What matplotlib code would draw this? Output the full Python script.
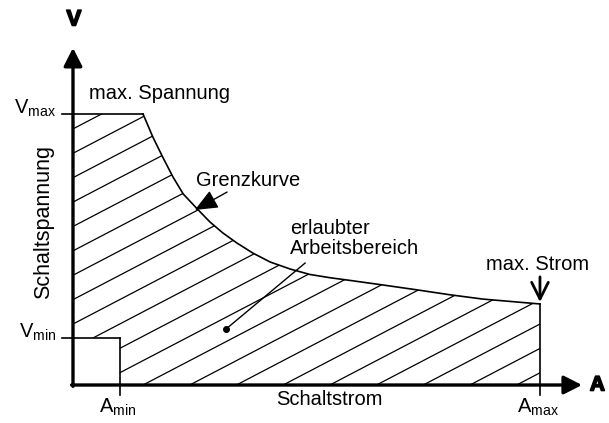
import numpy as np
import matplotlib
matplotlib.use("Agg")
import matplotlib.pyplot as plt
import matplotlib.patheffects as pe
from matplotlib.patches import Polygon
from matplotlib.collections import LineCollection

plt.rcParams['font.family'] = ['Liberation Sans', 'DejaVu Sans']
plt.rcParams['mathtext.fontset'] = 'custom'
plt.rcParams['mathtext.rm'] = 'Liberation Sans'

# Grenzkurve (Schaltstrom, Schaltspannung), arbitrary units
strom = [1.50, 1.71, 1.93, 2.14, 2.36, 2.66, 2.93, 3.21, 3.51, 3.85,
         4.22, 4.65, 5.07, 5.50, 5.93, 6.64, 7.37, 8.07, 8.78, 10.0]
spannung = [10.0, 9.15, 8.38, 7.68, 7.05, 6.50, 6.02, 5.61, 5.24, 4.87,
            4.54, 4.28, 4.08, 3.96, 3.86, 3.69, 3.51, 3.33, 3.17, 2.99]
a_min, a_max = 1.0, 10.0
v_min, v_max = 1.75, 10.0

fig = plt.figure(figsize=(6.09, 4.23), dpi=100)
ax = fig.add_axes([0, 0, 1, 1])
ax.set_xlim(-1.563, 11.478)
ax.set_ylim(-1.402, 14.207)
ax.axis('off')

fs = 14.5
lw_thin = 1.2

# hatched region
poly_pts = ([(0, v_min), (0, v_max)] + list(zip(strom, spannung)) +
            [(a_max, 0), (a_min, 0), (a_min, v_min)])
region = Polygon(poly_pts, closed=True, facecolor='none', edgecolor='none')
ax.add_patch(region)
slope = 0.9
segs = []
for k in range(24):
    c = 9.45 - 0.9 * k
    segs.append([(-1, slope * -1 + c), (12, slope * 12 + c)])
hatch = LineCollection(segs, colors='black', linewidths=0.9)
ax.add_collection(hatch)
hatch.set_clip_path(region)

# outline
ax.plot([-0.24, strom[0]], [v_max, v_max], color='black', lw=lw_thin)
ax.plot(strom, spannung, color='black', lw=lw_thin)
ax.plot([a_max, a_max], [spannung[-1], -0.37], color='black', lw=lw_thin)
ax.plot([-0.24, a_min], [v_min, v_min], color='black', lw=lw_thin)
ax.plot([a_min, a_min], [v_min, -0.37], color='black', lw=lw_thin)

# axes with arrows
arrow_kw = dict(arrowstyle='-|>,head_length=0.55,head_width=0.28', lw=2.4,
                color='black', mutation_scale=20, shrinkA=0, shrinkB=0)
ax.annotate('', xy=(0, 12.44), xytext=(0, -0.05), arrowprops=arrow_kw)
ax.annotate('', xy=(10.9, 0), xytext=(-0.03, 0), arrowprops=arrow_kw)
heavy = [pe.withStroke(linewidth=1.2, foreground='black')]
ax.text(0.02, 13.47, 'V', fontsize=16, fontweight='bold', ha='center', va='center',
        path_effects=heavy)
ax.text(11.23, 0.0, 'A', fontsize=15, fontweight='bold', ha='center', va='center',
        path_effects=heavy)

# tick labels
ax.text(-0.36, v_max, r'$\mathregular{V_{max}}$', fontsize=fs, ha='right', va='baseline')
ax.text(-0.36, v_min, r'$\mathregular{V_{min}}$', fontsize=fs, ha='right', va='baseline')
ax.text(a_min - 0.04, -0.42, r'$\mathregular{A_{min}}$', fontsize=fs, ha='center', va='top')
ax.text(a_max - 0.04, -0.42, r'$\mathregular{A_{max}}$', fontsize=fs, ha='center', va='top')

ax.text(-0.62, 6.01, 'Schaltspannung', fontsize=15.5, rotation=90, ha='center', va='center')
ax.text(5.48, -0.55, 'Schaltstrom', fontsize=fs, ha='center', va='center')

# annotations
ax.text(1.86, 10.77, 'max. Spannung', fontsize=fs, ha='center', va='center')
ax.text(3.75, 7.56, 'Grenzkurve', fontsize=fs, ha='center', va='center')
ax.annotate('', xy=(2.61, 6.46), xytext=(3.30, 7.12),
            arrowprops=dict(arrowstyle='-|>,head_length=0.7,head_width=0.3', lw=1.0,
                            color='black', mutation_scale=20, shrinkA=0, shrinkB=0))
ax.text(4.65, 5.41, 'erlaubter\nArbeitsbereich', fontsize=fs, ha='left', va='center',
        linespacing=1.05)
ax.plot([4.97, 3.28], [4.50, 2.07], color='black', lw=1.0)
ax.plot([3.28], [2.07], 'o', color='black', ms=4)
ax.text(9.94, 4.43, 'max. Strom', fontsize=fs, ha='center', va='center')
ax.annotate('', xy=(10.0, 3.06), xytext=(10.0, 3.99),
            arrowprops=dict(arrowstyle='->,head_length=0.6,head_width=0.3', lw=2.0,
                            color='black', mutation_scale=20, shrinkA=0, shrinkB=0))

fig.savefig('out.png', dpi=100, facecolor='white')
